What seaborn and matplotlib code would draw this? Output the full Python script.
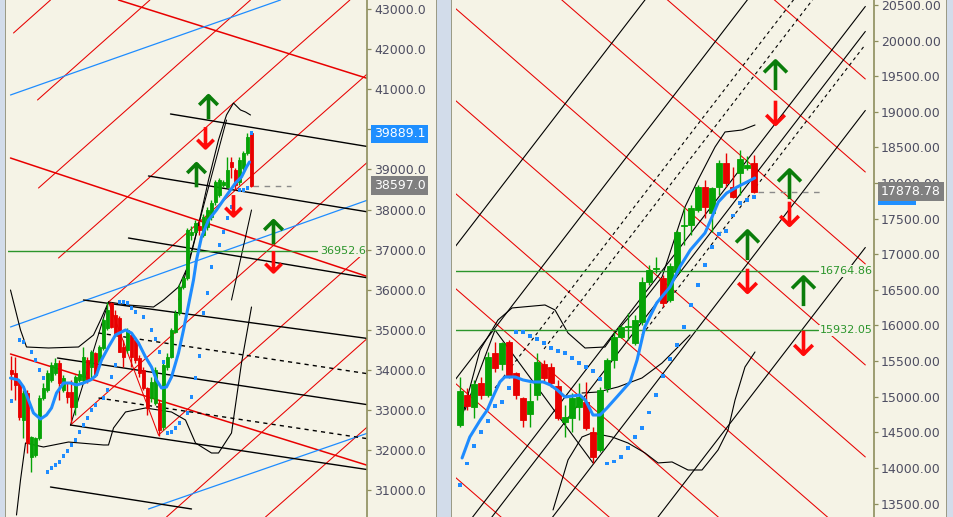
import numpy as np
import matplotlib
matplotlib.use("Agg")
import matplotlib.pyplot as plt
import matplotlib.transforms as mtransforms
from matplotlib.path import Path
from matplotlib.patches import Rectangle
import seaborn as sns

sns.set_style("white")
plt.rcParams["font.family"] = ["DejaVu Sans"]

# ==========================================
# Left chart data (bar index, price)
# ==========================================
left_open = [33997, 33922, 33698, 32750, 33423, 31827, 31877, 32301, 33299, 33498,
             33748, 33922, 34171, 33498, 33448, 33448, 33075, 33748, 33748, 34246,
             34072, 34421, 34196, 34546, 35045, 35668, 35369, 35294, 34571, 34496,
             34870, 34745, 34296, 33997, 33548, 33299, 33174, 33174, 32576, 34072,
             34321, 34945, 35419, 36067, 36292, 37364, 37439, 37589, 37364, 37564,
             37813, 38187, 38362, 38611, 38561, 39185, 38985, 38686, 39035, 39409,
             39908]
left_close = [33897, 33623, 32825, 33423, 32177, 32326, 32301, 33299, 33548, 33922,
              34122, 34171, 33673, 33797, 33324, 33075, 33822, 33897, 34321, 33748,
              34446, 33872, 34571, 35245, 35494, 35070, 34870, 34446, 34321, 34995,
              34321, 34246, 33922, 33548, 33050, 33698, 33997, 32501, 34122, 34321,
              34995, 35419, 36067, 36292, 37489, 37439, 37663, 37489, 37813, 37988,
              38162, 38686, 38736, 38686, 38985, 39060, 38611, 39235, 39409, 39808,
              38597]
left_high = [34346, 34321, 33748, 33498, 33498, 32351, 32326, 33373, 33673, 33997,
             34196, 34296, 34246, 33872, 33673, 33748, 33872, 33997, 34571, 34321,
             34496, 34446, 34620, 35294, 35693, 35693, 35494, 35344, 34745, 35045,
             34920, 34820, 34371, 34072, 33573, 33822, 34072, 33249, 34171, 34421,
             35045, 35494, 36142, 36342, 37539, 37589, 37738, 37738, 37888, 38062,
             38237, 38736, 38786, 38736, 39309, 39309, 39035, 39309, 39459, 39908,
             39933]
left_low = [33498, 33249, 32750, 32301, 31927, 31453, 31827, 32251, 33249, 33448,
            33698, 33872, 33249, 33448, 33174, 32676, 32875, 33698, 33698, 33673,
            33748, 33822, 34146, 34496, 34995, 35045, 34870, 34446, 34072, 34421,
            34072, 34171, 33822, 33498, 32875, 33199, 33124, 32351, 32501, 33997,
            34296, 34920, 35369, 36017, 36242, 37239, 37389, 37364, 37314, 37489,
            37738, 38112, 38312, 38561, 38536, 38786, 38486, 38611, 38985, 39359,
            38560]

left_ma_x = [-0.25, 1.75, 3, 4.25, 5.5, 7.25, 8.75, 10, 11.25, 13, 14.75, 16.25, 18, 19.75,
             21.25, 22.5, 24.25, 26, 28.5, 30, 31.75, 33.5, 35, 36.25, 37.5, 38.75, 40,
             41.75, 43, 44.25, 45.5, 46.25, 47.5, 49.25, 51.25, 53.5, 56, 57.5, 58.75, 59.5]
left_ma_y = [33797, 33748, 33573, 33249, 32925, 32775, 32875, 33050, 33423, 33673, 33673,
             33623, 33673, 33748, 33872, 34246, 34571, 34870, 34995, 34920, 34671, 34321,
             34072, 33748, 33548, 33573, 33822, 34421, 34995, 35618, 36242, 36741, 37314,
             37738, 37988, 38312, 38661, 38811, 39060, 39185]

left_sar_x = [0, 2, 3, 5, 6, 7, 8, 9, 10, 11, 12, 13, 14, 15, 16, 17, 18, 19, 20, 21, 23,
              24, 25, 26, 27, 28, 29, 30, 31, 33, 35, 36, 37, 38, 39, 40, 41, 42, 44, 45,
              46, 47, 48, 49, 50, 52, 53, 54, 55, 57, 58, 59, 60]
left_sar_y = [33224, 34745, 34695, 34446, 34246, 33997, 33797, 31453, 31553, 31628, 31703,
              31852, 31977, 32127, 32251, 32451, 32626, 32800, 33000, 33124, 33299, 33498,
              33822, 34122, 35693, 35693, 35668, 35543, 35444, 35319, 34995, 34770, 34446,
              34196, 32426, 32451, 32551, 32676, 32925, 33324, 33797, 34346, 35419, 35918,
              36566, 37115, 37439, 37788, 38062, 38486, 38486, 38536, 39908]

left_bb_up_x = [-0.25, 2.25, 3.75, 9.25, 16.75, 20.5, 22.5, 24.25, 29.25, 35.5, 38, 41.75,
                44.25, 46.75, 49.25, 51.75, 53.75, 55.5, 57.25, 58.5, 59.75]
left_bb_up_y = [35992, 34995, 34571, 34546, 34571, 34870, 35294, 35693, 35618, 35568, 35743,
                36067, 36616, 37614, 38736, 39734, 40357, 40656, 40482, 40432, 40357]
left_bb_lo_x = [1.25, 2.25, 3.5, 8, 14.25, 23, 24.25, 25.5, 28.5, 33.5, 40, 43.5, 46, 50,
                51.75, 55, 57.5, 60]
left_bb_lo_y = [30381, 31253, 32177, 32077, 32201, 32127, 32127, 32551, 32950, 33050, 32950,
                32750, 32177, 31927, 31927, 32426, 34171, 35568]

# trend lines (x0, price0, x1, price1)
left_red_up = [(0.5, 42402, 9.75, 43225), (6.5, 40731, 34.6, 43225), (6.75, 38536, 59.75, 43225),
               (11.75, 36790, 84.6, 43225), (24.25, 35693, 90, 41474), (14.75, 32625, 90, 39269),
               (36.75, 32376, 90, 37077), (38.75, 30331, 90, 34878), (63.5, 30331, 90, 32670)]
left_red_down = [(26.75, 43225, 90, 41237), (-0.25, 39284, 90, 36294), (-0.25, 34396, 90, 31588)]
left_blue = [(-0.25, 40856, 67.25, 43225), (-0.25, 35070, 90, 38269), (34.25, 30531, 90, 32456)]
left_fork = [(39.75, 40382, 90, 39554), (34.25, 38836, 90, 37925), (29.25, 37289, 90, 36279),
             (18, 35743, 90, 34770), (11.5, 34296, 90, 33117), (14.75, 32625, 90, 31498),
             (9.75, 31079, 45, 30531)]
left_fork_dash = [(21.75, 34920, 90, 33890), (21.75, 33299, 90, 32269)]
left_thin_black = [(14.75, 32625, 24.25, 35693), (41.75, 35743, 53.75, 40232), (55, 35743, 60, 37988)]
left_thin_red = [(24.25, 35693, 36.75, 32376)]

left_up_arrows = [(49.25, 40544), (46.25, 38861), (65.5, 37439)]
left_down_arrows = [(48.5, 39808), (55.5, 38112), (65.5, 36716)]
left_level = 36952.6
left_last = 38597.0
left_blue_box = 39889.1
left_ticks = [31000, 32000, 33000, 34000, 35000, 36000, 37000, 38000, 39000, 40000, 41000, 42000, 43000]
left_hidden_tick = 40000

# ==========================================
# Right chart data
# ==========================================
right_open = [14603, 15024, 14856, 15193, 15024, 15614, 15459, 15768, 15333, 14982,
              14757, 15024, 15459, 15417, 15151, 14645, 14701, 14856, 14926, 14505,
              14252, 15122, 15516, 15839, 15979, 15754, 16049, 16611, 16800, 16667,
              16358, 16751, 17390, 17411, 17622, 17945, 17580, 17945, 18282, 17945,
              18141, 18211, 18282]
right_close = [15080, 14870, 15179, 15024, 15558, 15403, 15754, 15277, 15024, 14673,
               14940, 15487, 15263, 15193, 14701, 14715, 14982, 14996, 14561, 14154,
               15094, 15516, 15839, 15979, 15993, 16077, 16611, 16779, 16814, 16316,
               16835, 17313, 17404, 17650, 17945, 17664, 17930, 18282, 18001, 17804,
               18338, 18253, 17879]
right_high = [15277, 15122, 15235, 15277, 15628, 15768, 15768, 15796, 15347, 14996,
              15193, 15614, 15516, 15473, 15235, 14884, 15052, 15193, 15207, 14575,
              15137, 15544, 15909, 16007, 16176, 16147, 16681, 16849, 16962, 16709,
              16877, 17341, 17664, 17692, 17973, 18043, 17945, 18324, 18422, 18225,
              18464, 18380, 18394]
right_low = [14575, 14814, 14701, 14968, 14996, 15347, 15375, 15263, 14968, 14575,
             14575, 14954, 15193, 15137, 14673, 14434, 14505, 14673, 14533, 14070,
             14224, 15066, 15403, 15825, 15796, 15726, 16007, 16569, 16737, 16260,
             16330, 16737, 17130, 17271, 17594, 17509, 17313, 17832, 17945, 17790,
             17832, 18183, 17860]

right_ma_x = [0.3, 1.4, 2.9, 3.9, 4.7, 5.7, 6.4, 7.9, 9, 10.4, 11.9, 12.9, 13.9, 15, 16.1,
              17.1, 17.9, 19, 20, 21, 22.4, 24.3, 25.3, 26.4, 28.1, 30, 31.4, 32.9, 35, 36,
              36.9, 38.1, 39.6, 41, 42.1]
right_ma_y = [14140, 14434, 14673, 14814, 14996, 15207, 15277, 15277, 15235, 15207, 15207,
              15165, 15094, 14996, 15010, 15024, 14954, 14743, 14743, 14842, 14996, 15207,
              15516, 15979, 16316, 16541, 16821, 17060, 17299, 17523, 17734, 17860, 17945,
              18015, 18071]

right_sar_x = [0, 1, 2, 3, 4, 5, 6, 7, 8, 9, 10, 11, 12, 13, 14, 15, 16, 17, 18, 19, 20,
               21, 22, 23, 24, 25, 26, 27, 28, 29, 30, 31, 32, 33, 34, 35, 36, 37, 38, 39,
               40, 41, 42]
right_sar_y = [13761, 14056, 14308, 14505, 14659, 14870, 14926, 15122, 15909, 15909, 15853,
               15810, 15754, 15684, 15642, 15614, 15544, 15473, 15417, 15361, 15249, 14056,
               14084, 14154, 14280, 14434, 14561, 14772, 15024, 15291, 15530, 15726, 15979,
               16288, 16569, 16849, 17102, 17285, 17327, 17538, 17720, 17762, 17804]

right_bb_up_x = [0.29, 2.86, 5.43, 7.43, 12.14, 13.57, 15.43, 17.86, 20.71, 22.14, 25.71,
                 28.86, 32.14, 34, 36.43, 37.86, 40.29, 42.14]
right_bb_up_y = [14715, 15656, 16077, 16246, 16288, 16218, 15895, 15684, 15698, 15895, 16288,
                 16681, 17664, 18043, 18506, 18717, 18745, 18815]
right_bb_lo_x = [13.29, 15.43, 17.43, 18.86, 21.71, 24, 26.43, 28.29, 30.29, 32.57, 34.57,
                 36.86, 38.29, 39.29, 40.71, 42.14]
right_bb_lo_y = [13410, 14112, 14435, 14491, 14435, 14350, 14210, 14070, 14084, 13971, 13971,
                 14252, 14533, 14954, 15417, 15628]
right_bb_mid_x = [17.43, 19.71, 22.57, 26, 28.86, 31.71, 32.86]
right_bb_mid_y = [15052, 15066, 15137, 15263, 15473, 15754, 15867]

right_red_down = [(-1, 24497, 57.9, 19461), (-1, 23191, 57.9, 18155), (-1, 21900, 57.9, 16864),
                  (-1, 20482, 57.9, 15446), (-1, 19190, 57.9, 14154), (-1, 17884, 57.9, 12848),
                  (-1, 16550, 57.9, 11514), (-1, 15217, 57.9, 10181), (-1, 13897, 57.9, 8861)]
right_black = [(-1, 17066, 57.9, 24593), (-1, 15198, 57.9, 22725), (-1, 12952, 57.9, 20479),
               (-1, 12601, 57.9, 20128), (-1, 11492, 57.9, 19019), (-1, 9568, 57.9, 17095)]
right_black_dash = [(5, 15122, 57.9, 21883), (12, 15670, 57.9, 21536), (26, 15867, 57.9, 19944)]
right_thin_black = [(5, 15937, 19, 14070), (0.71, 14814, 5, 15937)]

right_up_arrows = [(45, 19517), (47, 17987), (41, 17130), (49, 16484)]
right_down_arrows = [(45, 18997), (47, 17580), (41, 16639), (49, 15768)]
right_levels = [16764.86, 15932.05]
right_last = 17878.78
right_ticks = [13500, 14000, 14500, 15000, 15500, 16000, 16500, 17000, 17500, 18000,
               18500, 19000, 19500, 20000, 20500]

# ==========================================
# Styling
# ==========================================
CREAM = "#f5f3e6"
GREEN = "#06a306"
RED = "#e80000"
BLUE = "#1e8cff"
ARROW_GREEN = "#0a7d0a"
ARROW_RED = "#ff0a0a"
LEVEL_GREEN = "#2b952b"
AXIS_COL = "#8d8d5c"
TICK_TXT = "#4e4e62"

W, H = 954, 517
fig = plt.figure(figsize=(W / 100, H / 100), dpi=100)
fig.patch.set_facecolor("#d2dcea")
for x0, x1 in [(6, 436), (452, 946)]:
    fig.patches.append(Rectangle((x0 / W, 0), (x1 - x0) / W, 1, transform=fig.transFigure,
                                 fc=CREAM, ec="none", zorder=-2))
for xs in [5, 436, 451, 946]:
    fig.patches.append(Rectangle((xs / W, 0), 1.2 / W, 1, transform=fig.transFigure,
                                 fc="#9b9b86", ec="none", zorder=-2))

axL = fig.add_axes([8 / W, 0, (367 - 8) / W, 1])
axR = fig.add_axes([456 / W, 0, (874 - 456) / W, 1])
axL.set_zorder(1)
axR.set_zorder(1)

up_arrow = Path([(0, -14), (0, 14), (-11, 3), (0, 14), (11, 3)],
                [Path.MOVETO, Path.LINETO, Path.MOVETO, Path.LINETO, Path.LINETO])
down_arrow = Path([(0, 14), (0, -14), (-11, -3), (0, -14), (11, -3)],
                  [Path.MOVETO, Path.LINETO, Path.MOVETO, Path.LINETO, Path.LINETO])


def draw_segments(ax, segs, color, lw, ls="-", z=2):
    for x0, y0, x1, y1 in segs:
        line, = ax.plot([x0, x1], [y0, y1], color=color, lw=lw, zorder=z)
        if ls == "--":
            line.set_dashes((3, 3))


def draw_candles(ax, o, h, l, c):
    o, h, l, c = map(np.asarray, (o, h, l, c))
    x = np.arange(len(o))
    cols = np.where(c >= o, GREEN, RED)
    ax.vlines(x, l, h, colors=cols, lw=1.0, zorder=4)
    ax.bar(x, np.abs(c - o), bottom=np.minimum(o, c), width=0.72, color=cols,
           edgecolor=cols, linewidth=0.6, zorder=5)


def style_axis(ax, xlim, ylim, ticks, labels):
    ax.set_facecolor(CREAM)
    ax.set_xlim(*xlim)
    ax.set_ylim(*ylim)
    for s in ["top", "left", "bottom"]:
        ax.spines[s].set_visible(False)
    ax.spines["right"].set_color(AXIS_COL)
    ax.spines["right"].set_linewidth(1.2)
    ax.set_xticks([])
    ax.yaxis.set_ticks_position("right")
    ax.set_yticks(ticks, labels)
    ax.tick_params(axis="y", direction="out", length=3, width=0.9, color=AXIS_COL,
                   pad=2, labelsize=9, labelcolor=TICK_TXT)
    ax.set_xlabel("")
    ax.set_ylabel("")


def price_box(ax, price, text, fc, z=10):
    trans = mtransforms.blended_transform_factory(ax.transAxes, ax.transData)
    ax.annotate(text, xy=(1, price), xycoords=trans, xytext=(5, 0), textcoords="offset points",
                ha="left", va="center", fontsize=9, color="white", zorder=z, annotation_clip=False,
                bbox=dict(boxstyle="square,pad=0.22", fc=fc, ec="none"))


def level_label(ax, price, text):
    trans = mtransforms.blended_transform_factory(ax.transAxes, ax.transData)
    ax.text(0.997, price, text, transform=trans, ha="right", va="center", fontsize=8,
            color=LEVEL_GREEN, zorder=9,
            bbox=dict(boxstyle="square,pad=0.05", fc=CREAM, ec="none"))


# ==========================================
# Left chart
# ==========================================
ax = axL
draw_segments(ax, left_red_up, RED, 0.75)
draw_segments(ax, left_red_down, RED, 1.1)
draw_segments(ax, left_blue, BLUE, 0.9)
draw_segments(ax, left_fork, "black", 1.0)
draw_segments(ax, left_fork_dash, "black", 1.0, ls="--")
draw_segments(ax, left_thin_black, "black", 0.75)
draw_segments(ax, left_thin_red, RED, 0.75)
sns.lineplot(x=left_bb_up_x, y=left_bb_up_y, ax=ax, color="black", lw=0.8, sort=False, zorder=3)
sns.lineplot(x=left_bb_lo_x, y=left_bb_lo_y, ax=ax, color="black", lw=0.8, sort=False, zorder=3)
ax.plot([-1, 76.4], [left_level, left_level], color=LEVEL_GREEN, lw=1.0, zorder=3)
draw_candles(ax, left_open, left_high, left_low, left_close)
sns.lineplot(x=left_ma_x, y=left_ma_y, ax=ax, color=BLUE, lw=2.2, sort=False, zorder=6)
sns.scatterplot(x=left_sar_x, y=left_sar_y, ax=ax, marker="s", s=5, color=BLUE,
                edgecolor="none", zorder=6)
last_line, = ax.plot([60.5, 70], [left_last, left_last], color="#8a8a8a", lw=1.0, zorder=6)
last_line.set_dashes((4, 4))
ux, uy = zip(*left_up_arrows)
ax.plot(ux, uy, ls="none", marker=up_arrow, ms=17, mec=ARROW_GREEN, mfc="none", mew=2.6, zorder=8)
dx, dy = zip(*left_down_arrows)
ax.plot(dx, dy, ls="none", marker=down_arrow, ms=15, mec=ARROW_RED, mfc="none", mew=2.6, zorder=8)
style_axis(ax, (-0.875, 88.875), (30331, 43225), left_ticks,
           ["" if t == left_hidden_tick else f"{t:.1f}" for t in left_ticks])
level_label(ax, left_level, f"{left_level:.1f}")
price_box(ax, left_blue_box, f"{left_blue_box:.1f}", "#1f8fff")
price_box(ax, left_last, f"{left_last:.1f}", "#808080")

# ==========================================
# Right chart
# ==========================================
ax = axR
draw_segments(ax, right_red_down, RED, 0.75)
draw_segments(ax, right_black, "black", 0.8)
draw_segments(ax, right_black_dash, "black", 0.8, ls="--")
draw_segments(ax, right_thin_black, "black", 0.8)
sns.lineplot(x=right_bb_up_x, y=right_bb_up_y, ax=ax, color="black", lw=0.8, sort=False, zorder=3)
sns.lineplot(x=right_bb_lo_x, y=right_bb_lo_y, ax=ax, color="black", lw=0.8, sort=False, zorder=3)
sns.lineplot(x=right_bb_mid_x, y=right_bb_mid_y, ax=ax, color="black", lw=0.8, sort=False, zorder=3)
for lv in right_levels:
    ax.plot([-1, 51.1], [lv, lv], color=LEVEL_GREEN, lw=1.0, zorder=3)
draw_candles(ax, right_open, right_high, right_low, right_close)
sns.lineplot(x=right_ma_x, y=right_ma_y, ax=ax, color=BLUE, lw=2.2, sort=False, zorder=6)
sns.scatterplot(x=right_sar_x, y=right_sar_y, ax=ax, marker="s", s=5, color=BLUE,
                edgecolor="none", zorder=6)
last_line, = ax.plot([42.5, 51.5], [right_last, right_last], color="#8a8a8a", lw=1.0, zorder=6)
last_line.set_dashes((4, 4))
ux, uy = zip(*right_up_arrows)
ax.plot(ux, uy, ls="none", marker=up_arrow, ms=21, mec=ARROW_GREEN, mfc="none", mew=2.6, zorder=8)
dx, dy = zip(*right_down_arrows)
ax.plot(dx, dy, ls="none", marker=down_arrow, ms=17, mec=ARROW_RED, mfc="none", mew=2.6, zorder=8)
style_axis(ax, (-0.571, 59.14), (13311, 20570), right_ticks, [f"{t:.2f}" for t in right_ticks])
for lv in right_levels:
    level_label(ax, lv, f"{lv:.2f}")
price_box(ax, right_last - 60, "        ", "#1f8fff", z=9)
price_box(ax, right_last, f"{right_last:.2f}", "#808080", z=10)

fig.savefig("out.png", dpi=100, facecolor=fig.get_facecolor())
